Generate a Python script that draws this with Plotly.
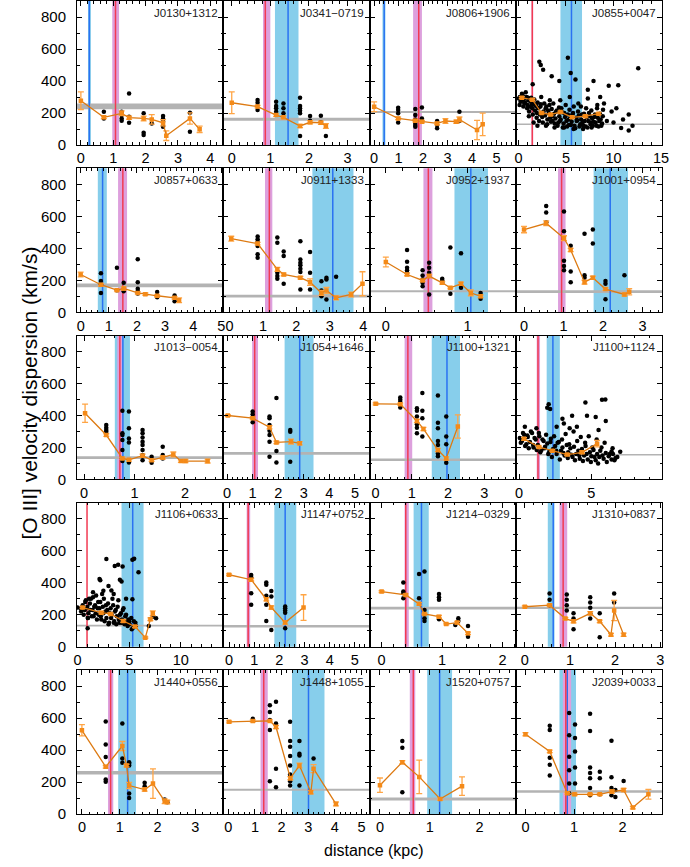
import plotly.graph_objects as go
from plotly.subplots import make_subplots

# ---------------- panel meta ----------------
names = ["J0130+1312", "J0341\u22120719", "J0806+1906", "J0855+0047",
         "J0857+0633", "J0911+1333", "J0952+1937", "J1001+0954",
         "J1013\u22120054", "J1054+1646", "J1100+1321", "J1100+1124",
         "J1106+0633", "J1147+0752", "J1214\u22120329", "J1310+0837",
         "J1440+0556", "J1448+1055", "J1520+0757", "J2039+0033"]
x_min = [-0.12, -0.22, -0.19, -0.28, -0.13, -0.19, -0.20, -0.21, -0.14, -0.15,
         -0.17, -0.23, -0.05, -0.23, -0.20, -0.20, -0.13, -0.19, -0.21, -0.20]
x_max = [4.40, 3.57, 5.78, 15.1, 5.07, 4.19, 1.59, 3.49, 2.76, 5.57,
         3.87, 9.89, 14.1, 5.58, 2.22, 3.04, 3.74, 5.30, 2.73, 2.81]
x_dtick = [1, 1, 1, 5, 1, 1, 1, 1, 1, 1, 1, 5, 5, 1, 1, 1, 1, 1, 1, 1]

# gray horizontal band (km/s)
gray_lo = [223, 152, 200, 125, 157, 92, 125, 120, 128, 155, 115, 150, 126, 120, 233, 236, 247, 145, 85, 133]
gray_hi = [260, 170, 212, 135, 180, 110, 138, 138, 145, 172, 132, 160, 138, 136, 250, 250, 268, 158, 103, 148]
# blue vertical band (kpc)
blue_lo = [0.22, 1.12, 0.34, 4.42, 0.61, 2.48, 0.84, 1.76, 0.61, 2.25, 1.55, 1.91, 4.26, 1.80, 0.53, 0.51, 0.96, 2.39, 0.95, 0.70]
blue_hi = [0.31, 1.73, 0.46, 6.69, 0.93, 3.71, 1.25, 2.63, 0.91, 3.38, 2.33, 2.82, 6.39, 2.67, 0.78, 0.66, 1.43, 3.61, 1.45, 1.04]
blue_mid = [0.26, 1.46, 0.41, 5.58, 0.78, 3.09, 1.04, 2.18, 0.77, 2.84, 1.97, 2.34, 5.34, 2.23, 0.66, 0.63, 1.21, 3.01, 1.20, 0.86]
# magenta vertical band and red line (kpc)
mag_lo = [0.97, 0.81, 1.59, 1.38, 1.33, 1.06, 0.46, 0.86, 0.66, 0.98, 0.80, 1.22, None, 0.70, 0.38, 0.77, 0.69, 1.21, 0.60, 0.77]
mag_hi = [1.18, 1.00, 1.95, 1.55, 1.65, 1.28, 0.57, 1.05, 0.76, 1.21, 1.01, 1.45, None, 0.84, 0.45, 0.94, 0.83, 1.48, 0.71, 0.94]
red_mid = [1.07, 0.87, 1.82, 1.46, 1.50, 1.19, 0.52, 0.95, 0.71, 1.08, 0.89, 1.31, 0.92, 0.76, 0.40, 0.85, 0.76, 1.33, 0.67, 0.83]

# ---------------- panel data ----------------
p01_sx = [0.71, 0.71, 1.26, 1.26, 1.26, 1.26, 1.49, 1.49, 1.49, 1.94, 1.94, 1.94, 2.19, 2.54, 2.54, 2.54, 2.54, 3.37, 3.37]
p01_sy = [208, 166, 208, 187, 166, 152, 322, 177, 139, 198, 77, 62, 135, 181, 164, 146, 114, 202, 83]
p01_ox = [0, 0.71, 1.26, 1.49, 1.94, 2.19, 2.54, 2.64, 3.37, 3.67]
p01_oy = [277, 173, 198, 171, 166, 160, 139, 58, 166, 98]
p01_oe = [55, 8, 15, 10, 15, 30, 20, 30, 35, 20]

p02_sx = [0.67, 0.67, 0.67, 1.15, 1.15, 1.15, 1.15, 1.34, 1.34, 1.34, 1.77, 1.77, 1.77, 1.77, 1.77, 1.77, 2.03, 2.03, 2.31, 2.31, 2.44]
p02_sy = [281, 264, 218, 271, 244, 229, 208, 260, 229, 198, 296, 244, 229, 214, 198, 56, 181, 152, 183, 142, 56]
p02_ox = [0, 0.67, 1.15, 1.34, 1.77, 2.03, 2.31, 2.44]
p02_oy = [264, 240, 187, 173, 119, 142, 139, 119]
p02_oe = [68, 8, 8, 8, 10, 10, 10, 15]

p03_sx = [0.98, 0.98, 0.98, 0.98, 1.68, 1.68, 1.68, 1.68, 1.68, 1.68, 1.95, 1.95, 2.57, 2.57, 2.57, 3.48, 3.48]
p03_sy = [233, 218, 198, 141, 225, 187, 160, 139, 125, 114, 235, 166, 150, 125, 104, 208, 150]
p03_ox = [0, 0.98, 1.68, 1.95, 2.57, 2.91, 3.35, 3.48, 4.20, 4.43]
p03_oy = [239, 166, 152, 146, 135, 150, 146, 160, 94, 129]
p03_oe = [31, 8, 8, 8, 8, 15, 10, 15, 60, 70]

p04_sx = [0.05, 0.15, 0.30, 0.45, 0.55, 0.70, 0.85, 0.95, 1.05, 1.20, 1.35, 1.45, 1.60, 1.75, 1.85, 1.95,
          2.10, 2.25, 2.35, 2.50, 2.65, 2.80, 2.95, 3.05, 3.20, 3.35, 3.50, 3.60, 3.75, 3.90, 4.05, 4.20,
          4.30, 4.45, 4.60, 4.75, 4.90, 5.05, 5.20, 5.30, 5.45, 5.60, 5.75, 5.90, 6.05, 6.20, 6.35, 6.50,
          6.60, 6.75, 6.90, 7.05, 7.20, 7.35, 7.50, 7.60, 7.75, 7.90, 8.05, 8.20, 8.35, 8.50, 8.65, 8.80,
          0.12, 0.22, 0.37, 0.52, 0.62, 0.77, 0.92, 1.02, 1.12, 1.27, 1.42, 1.52, 1.67, 1.82, 1.92, 2.02,
          2.17, 2.32, 2.42, 2.57, 2.72, 2.87, 3.02, 3.12, 3.27, 3.42, 3.57, 3.67, 3.82, 3.97, 4.12, 4.27,
          4.37, 4.52, 4.67, 4.82, 4.97, 5.12, 5.27, 5.37, 5.52, 5.67, 5.82, 5.97, 6.12, 6.27, 6.42, 6.57,
          6.67, 6.82, 6.97, 7.12, 7.27, 7.42, 7.57, 7.67, 7.82, 7.97, 8.12, 8.27, 8.42, 8.57, 8.72, 8.87,
          1.1, 1.6, 2.0, 2.4, 2.9, 3.3, 3.8, 4.4, 4.8, 5.4, 5.8, 6.3, 6.8, 7.3, 7.7, 8.3, 8.9, 9.3,
          1.5, 2.2, 2.35, 2.6, 3.5, 4.3, 5.2, 5.5, 6.0, 7.3, 7.9, 8.6, 9.0, 9.5, 9.8, 10.0, 10.3,
          10.5, 10.8, 11.0, 11.6, 11.6, 12.0, 12.6]
p04_sy = [290, 300, 275, 310, 285, 265, 300, 250, 280, 240, 295, 230, 260, 215, 245, 200,
          230, 190, 255, 175, 210, 185, 240, 160, 200, 170, 225, 150, 195, 165, 215, 140,
          180, 160, 205, 135, 175, 150, 190, 125, 165, 145, 200, 120, 170, 155, 185, 130,
          160, 140, 195, 115, 175, 150, 180, 130, 165, 145, 190, 120, 170, 150, 160, 135,
          250, 270, 320, 240, 260, 330, 230, 295, 210, 270, 250, 190, 285, 245, 170, 265,
          150, 240, 200, 140, 260, 230, 130, 215, 250, 145, 180, 260, 135, 210, 120, 235,
          150, 230, 110, 200, 250, 115, 160, 220, 125, 190, 240, 105, 150, 210, 115, 240,
          190, 120, 150, 230, 110, 200, 140, 215, 120, 175, 140, 230, 115, 195, 120, 180,
          180, 140, 120, 300, 120, 280, 110, 280, 110, 300, 100, 260, 100, 290, 110, 250, 220, 150,
          380, 520, 500, 470, 430, 400, 545, 450, 410, 345, 400, 300, 260, 370, 210, 140, 230,
          373, 106, 160, 190, 90, 120, 480]
p04_ox = [0.35, 1.46, 2.44, 3.38, 4.42, 5.65, 7.04, 8.43]
p04_oy = [296, 283, 200, 190, 206, 173, 180, 196]
p04_oe = [6, 6, 6, 6, 6, 6, 6, 6]

p05_sx = [0.72, 0.72, 0.72, 0.72, 1.29, 1.29, 1.53, 1.53, 2.03, 2.03, 2.03, 2.03, 2.03, 2.72, 2.72, 3.34, 3.34]
p05_sy = [243, 195, 174, 121, 278, 138, 184, 132, 331, 188, 147, 132, 117, 126, 94, 105, 69]
p05_ox = [0, 0.72, 1.29, 1.53, 2.03, 2.30, 2.72, 3.34, 3.50]
p05_oy = [236, 172, 138, 149, 121, 113, 103, 90, 75]
p05_oe = [15, 8, 6, 10, 6, 8, 6, 8, 15]

p06_sx = [0.84, 0.84, 0.84, 0.84, 0.84, 0.84, 1.43, 1.43, 1.43, 1.43, 1.43, 1.62, 1.62, 1.62,
          2.12, 2.12, 2.12, 2.12, 2.12, 2.12, 2.12, 2.41, 2.41, 2.41, 2.75, 2.75, 2.75, 2.90, 2.90, 2.90, 3.19]
p06_sy = [473, 456, 440, 414, 362, 341, 467, 435, 247, 226, 209, 379, 352, 178,
          444, 330, 310, 293, 272, 251, 142, 377, 247, 142, 194, 136, 100, 216, 205, 80, 222]
p06_ox = [0.05, 0.84, 1.43, 1.62, 2.12, 2.41, 2.75, 2.90, 3.19, 3.64, 3.98]
p06_oy = [460, 429, 268, 236, 216, 188, 121, 136, 90, 111, 178]
p06_oe = [15, 8, 12, 8, 8, 20, 15, 20, 12, 15, 75]

p07_sx = [0.26, 0.26, 0.26, 0.26, 0.26, 0.45, 0.45, 0.45, 0.45, 0.45, 0.53, 0.53, 0.53, 0.53, 0.53,
          0.69, 0.69, 0.69, 0.79, 0.79, 0.92, 0.92, 1.16, 1.16]
p07_sy = [389, 316, 278, 262, 247, 262, 230, 205, 184, 163, 310, 278, 247, 226, 111,
          209, 199, 184, 404, 115, 368, 153, 121, 84]
p07_ox = [0, 0.26, 0.45, 0.53, 0.69, 0.79, 0.92, 1.04, 1.16]
p07_oy = [314, 236, 199, 226, 184, 153, 178, 121, 100]
p07_oe = [31, 8, 6, 10, 8, 6, 10, 18, 8]

p08_sx = [0.56, 0.56, 0.56, 1.01, 1.01, 1.01, 1.01, 1.01, 1.18, 1.18, 1.18, 1.53, 1.53, 1.53, 1.74, 1.74, 2.06, 2.06, 2.06, 2.54]
p08_sy = [664, 624, 563, 630, 506, 322, 289, 262, 416, 255, 188, 490, 232, 215, 517, 429, 195, 178, 82, 232]
p08_ox = [0, 0.56, 1.01, 1.18, 1.53, 1.74, 2.06, 2.54, 2.66]
p08_oy = [517, 556, 463, 389, 188, 215, 145, 111, 128]
p08_oe = [20, 15, 15, 10, 12, 10, 8, 10, 20]

p09_sx = [0.44, 0.44, 0.44, 0.44, 0.76, 0.76, 0.76, 0.76, 0.76, 0.76, 0.89, 0.89, 0.89, 0.89, 0.89,
          1.16, 1.16, 1.16, 1.16, 1.16, 1.16, 1.16, 1.16, 1.34, 1.34, 1.56, 1.56, 1.56]
p09_sy = [341, 324, 310, 299, 429, 289, 278, 247, 184, 115, 425, 320, 257, 232, 107,
          310, 289, 262, 236, 216, 184, 153, 121, 142, 105, 205, 153, 132]
p09_ox = [0.02, 0.44, 0.76, 0.89, 1.16, 1.34, 1.56, 1.77, 1.92, 2.01, 2.45]
p09_oy = [414, 278, 132, 123, 149, 121, 138, 157, 115, 115, 115]
p09_oe = [57, 8, 6, 8, 10, 8, 10, 15, 8, 10, 12]

p10_sx = [1.0, 1.0, 1.0, 1.0, 1.66, 1.66, 1.66, 1.66, 1.66, 1.66, 1.66, 1.93, 1.93, 1.93, 2.47, 2.47, 2.47]
p10_sy = [425, 408, 387, 358, 393, 383, 341, 304, 278, 236, 142, 509, 178, 107, 310, 299, 111]
p10_ox = [0.03, 1.0, 1.66, 1.93, 2.50, 2.84]
p10_oy = [400, 383, 327, 232, 237, 226]
p10_oe = [6, 6, 10, 8, 15, 10]

p11_sx = [0.68, 0.68, 0.68, 0.68, 1.14, 1.14, 1.14, 1.14, 1.14, 1.14, 1.29, 1.29, 1.29, 1.29,
          1.72, 1.72, 1.72, 1.72, 1.72, 1.72, 1.72, 1.95, 1.95, 1.95, 1.95]
p11_sy = [513, 498, 484, 450, 446, 429, 393, 345, 324, 289, 540, 429, 383, 268,
          525, 355, 320, 241, 216, 163, 146, 393, 268, 220, 105]
p11_ox = [0, 0.68, 1.14, 1.32, 1.72, 1.95, 2.27]
p11_oy = [473, 471, 366, 316, 184, 132, 331]
p11_oe = [6, 6, 10, 10, 10, 10, 73]

p12_sx = [0.05, 0.20, 0.35, 0.50, 0.60, 0.75, 0.90, 1.00, 1.15, 1.30, 1.40, 1.55, 1.70, 1.80, 1.95, 2.10,
          2.20, 2.35, 2.50, 2.60, 2.75, 2.90, 3.00, 3.15, 3.30, 3.40, 3.55, 3.70, 3.80, 3.95, 4.10, 4.20,
          4.35, 4.50, 4.60, 4.75, 4.90, 5.00, 5.15, 5.30, 5.40, 5.55, 5.70, 5.85, 6.00, 6.20, 6.40, 6.60,
          0.12, 0.27, 0.42, 0.57, 0.67, 0.82, 0.97, 1.07, 1.22, 1.37, 1.47, 1.62, 1.77, 1.87, 2.02, 2.17,
          2.27, 2.42, 2.57, 2.67, 2.82, 2.97, 3.07, 3.22, 3.37, 3.47, 3.62, 3.77, 3.87, 4.02, 4.17, 4.27,
          4.42, 4.57, 4.67, 4.82, 4.97, 5.07, 5.22, 5.37, 5.47, 5.62, 5.77, 5.92, 6.07, 6.27, 6.47, 6.67,
          1.95, 2.05, 2.15, 3.00, 3.10, 3.67, 4.00, 4.59, 4.70, 5.30, 5.74, 5.97, 6.00, 5.50, 6.50, 7.00,
          6.40, 6.80, 2.60, 1.20, 0.40, 3.50]
p12_sy = [260, 240, 280, 220, 265, 235, 290, 200, 250, 215, 270, 185, 240, 205, 225, 175,
          255, 190, 210, 160, 235, 180, 200, 150, 215, 170, 195, 140, 205, 160, 180, 130,
          190, 150, 210, 125, 170, 145, 185, 120, 160, 140, 200, 130, 165, 145, 175, 120,
          230, 290, 210, 275, 195, 300, 215, 260, 185, 290, 170, 250, 195, 280, 160, 235,
          140, 270, 180, 230, 125, 250, 165, 285, 135, 220, 155, 300, 120, 240, 150, 265,
          115, 230, 160, 270, 110, 200, 140, 250, 100, 180, 150, 230, 110, 160, 195, 135,
          448, 470, 440, 380, 350, 398, 330, 481, 398, 390, 498, 500, 366, 310, 160, 173,
          125, 140, 330, 320, 330, 320]
p12_ox = [0.34, 1.38, 2.30, 3.33, 4.36, 5.40]
p12_oy = [254, 203, 180, 156, 170, 224]
p12_oe = [8, 6, 6, 6, 8, 20]

p13_sx = [0.30, 0.50, 0.70, 0.80, 0.95, 1.05, 1.20, 1.30, 1.45, 1.55, 1.70, 1.80, 1.95, 2.05, 2.20, 2.30,
          2.45, 2.55, 2.70, 2.80, 2.95, 3.05, 3.20, 3.30, 3.45, 3.55, 3.70, 3.80, 3.95, 4.05, 4.20, 4.30,
          4.45, 4.55, 4.70, 4.85, 5.00, 5.20, 5.40, 5.60,
          0.35, 0.60, 0.75, 0.88, 1.00, 1.12, 1.25, 1.38, 1.50, 1.62, 1.75, 1.88, 2.00, 2.12, 2.25, 2.38,
          2.50, 2.62, 2.75, 2.88, 3.00, 3.12, 3.25, 3.38, 3.50, 3.62, 3.75, 3.88, 4.00, 4.12, 4.25, 4.38,
          4.50, 4.62, 4.75, 4.90, 5.05, 5.25, 5.45, 5.65,
          0.00, 0.98, 2.13, 2.20, 2.79, 3.28, 3.00, 3.60, 3.93, 4.10, 4.26, 4.36, 5.31, 5.48, 5.90, 5.31,
          3.50, 2.50, 6.90, 7.30, 7.60, 1.50, 4.70, 1.00]
p13_sy = [240, 260, 230, 290, 250, 210, 270, 300, 230, 190, 260, 320, 240, 200, 280, 170,
          250, 300, 220, 180, 270, 150, 240, 200, 260, 160, 230, 190, 290, 150, 210, 170,
          240, 140, 200, 130, 160, 180, 120, 150,
          220, 200, 280, 240, 180, 300, 230, 190, 310, 250, 210, 170, 280, 240, 190, 330,
          210, 160, 260, 230, 140, 210, 180, 300, 150, 220, 140, 250, 170, 200, 150, 230,
          160, 190, 150, 170, 140, 110, 160, 130,
          245, 115, 423, 415, 548, 352, 380, 505, 512, 419, 408, 502, 544, 550, 465, 297,
          330, 350, 130, 188, 178, 340, 300, 180]
p13_ox = [0.49, 2.30, 3.20, 4.43, 5.57, 6.56, 7.05, 7.28]
p13_oy = [245, 213, 205, 161, 126, 57, 172, 209]
p13_oe = [6, 8, 6, 8, 6, 5, 8, 15]

p14_sx = [0.88, 0.88, 0.88, 0.88, 1.48, 1.48, 1.48, 1.48, 1.48, 1.68, 1.68, 1.68, 2.23, 2.23, 2.23, 2.23, 2.23]
p14_sy = [448, 435, 335, 262, 402, 387, 318, 262, 161, 349, 314, 105, 251, 241, 226, 213, 115]
p14_ox = [0, 0.88, 1.48, 1.68, 2.23, 2.96]
p14_oy = [450, 419, 297, 245, 151, 245]
p14_oe = [6, 8, 10, 10, 10, 80]

p15_sx = [0.36, 0.36, 0.36, 0.36, 0.62, 0.62, 0.71, 0.71, 0.71, 0.71, 0.95, 0.95, 0.95, 0.95, 1.22, 1.27, 1.27, 1.43, 1.43]
p15_sy = [402, 345, 335, 303, 454, 303, 471, 230, 178, 161, 329, 310, 293, 172, 136, 178, 161, 130, 63]
p15_ox = [0, 0.40, 0.62, 0.71, 0.95, 1.07, 1.25, 1.43]
p15_oy = [345, 324, 268, 205, 188, 142, 151, 84]
p15_oe = [6, 6, 8, 5, 8, 5, 8, 8]

p16_sx = [0.55, 0.55, 0.55, 0.93, 0.93, 0.93, 0.93, 1.08, 1.08, 1.08, 1.45, 1.45, 1.45, 1.45, 1.45, 1.66, 1.66, 1.98, 1.98]
p16_sy = [333, 293, 260, 326, 293, 260, 226, 209, 176, 109, 310, 276, 243, 209, 176, 209, 59, 333, 276]
p16_ox = [0, 0.55, 0.90, 1.08, 1.45, 1.66, 1.91, 1.98, 2.19]
p16_oy = [250, 260, 176, 159, 209, 159, 75, 226, 75]
p16_oe = [6, 6, 6, 10, 10, 8, 8, 63, 10]

p17_sx = [0.63, 0.63, 0.63, 0.63, 0.63, 1.07, 1.07, 1.07, 1.25, 1.25, 1.25, 1.25, 1.25, 1.66, 1.66, 2.19, 2.26]
p17_sy = [578, 435, 356, 216, 201, 565, 347, 320, 324, 314, 303, 128, 100, 195, 174, 90, 73]
p17_ox = [0, 0.63, 1.07, 1.18, 1.25, 1.66, 1.88, 2.19, 2.26]
p17_oy = [523, 295, 425, 303, 178, 153, 190, 80, 75]
p17_oe = [35, 8, 28, 8, 20, 10, 92, 15, 12]

p18_sx = [0.92, 1.56, 1.56, 1.56, 1.56, 1.56, 1.79, 1.79, 1.79, 1.79,
          2.32, 2.32, 2.32, 2.32, 2.32, 2.32, 2.32, 2.32, 2.67, 2.67, 2.67, 2.67, 3.20]
p18_sy = [596, 680, 638, 588, 525, 205, 701, 565, 283, 167,
          576, 456, 421, 362, 303, 247, 205, 178, 456, 377, 366, 178, 347]
p18_ox = [0.03, 0.92, 1.56, 1.79, 2.33, 2.67, 3.10, 3.20, 4.04]
p18_oy = [576, 582, 582, 544, 224, 303, 136, 283, 63]
p18_oe = [6, 6, 6, 10, 10, 15, 10, 25, 12]

p19_sx = [0.45, 0.45, 0.45]
p19_sy = [456, 414, 136]
p19_ox = [0, 0.45, 0.79, 1.21, 1.65]
p19_oy = [180, 324, 232, 94, 174]
p19_oe = [45, 10, 105, 8, 58]

p20_sx = [0.50, 0.50, 0.50, 0.50, 0.50, 0.90, 0.90, 0.90, 0.90, 0.90, 0.90, 1.02, 1.02, 1.02, 1.02, 1.02,
          1.33, 1.33, 1.33, 1.33, 1.33, 1.33, 1.33, 1.53, 1.53, 1.53, 1.77, 1.77, 1.77, 1.77, 1.85, 1.85, 2.02]
p20_sy = [552, 525, 351, 308, 241, 632, 492, 358, 274, 190, 130, 559, 475, 391, 291, 190,
          626, 519, 291, 257, 224, 163, 117, 264, 224, 123, 458, 230, 163, 117, 150, 107, 207]
p20_ox = [0, 0.50, 0.86, 1.01, 1.33, 1.53, 1.78, 2.02, 2.21, 2.53]
p20_oy = [499, 391, 130, 123, 123, 123, 140, 150, 40, 123]
p20_oe = [10, 8, 6, 8, 6, 6, 10, 10, 8, 30]

panels = [
    (p01_sx, p01_sy, p01_ox, p01_oy, p01_oe), (p02_sx, p02_sy, p02_ox, p02_oy, p02_oe),
    (p03_sx, p03_sy, p03_ox, p03_oy, p03_oe), (p04_sx, p04_sy, p04_ox, p04_oy, p04_oe),
    (p05_sx, p05_sy, p05_ox, p05_oy, p05_oe), (p06_sx, p06_sy, p06_ox, p06_oy, p06_oe),
    (p07_sx, p07_sy, p07_ox, p07_oy, p07_oe), (p08_sx, p08_sy, p08_ox, p08_oy, p08_oe),
    (p09_sx, p09_sy, p09_ox, p09_oy, p09_oe), (p10_sx, p10_sy, p10_ox, p10_oy, p10_oe),
    (p11_sx, p11_sy, p11_ox, p11_oy, p11_oe), (p12_sx, p12_sy, p12_ox, p12_oy, p12_oe),
    (p13_sx, p13_sy, p13_ox, p13_oy, p13_oe), (p14_sx, p14_sy, p14_ox, p14_oy, p14_oe),
    (p15_sx, p15_sy, p15_ox, p15_oy, p15_oe), (p16_sx, p16_sy, p16_ox, p16_oy, p16_oe),
    (p17_sx, p17_sy, p17_ox, p17_oy, p17_oe), (p18_sx, p18_sy, p18_ox, p18_oy, p18_oe),
    (p19_sx, p19_sy, p19_ox, p19_oy, p19_oe), (p20_sx, p20_sy, p20_ox, p20_oy, p20_oe),
]

# ---------------- figure ----------------
FONT = "Liberation Sans, Arial, Helvetica, sans-serif"
C_GRAY = "#B3B3B3"
C_SKY = "#87CEEB"
C_BLUE = "#2A72F2"
C_PLUM = "#DDA0DD"
C_RED = "#F23A52"
C_OLINE = "#DD7A12"
C_OMARK = "#F48A18"
C_OERR = "#FFA545"

fig = make_subplots(rows=5, cols=4, horizontal_spacing=0, vertical_spacing=0.0286)

shapes = []
annotations = []
for i, (sx, sy, ox, oy, oe) in enumerate(panels):
    r, c = i // 4 + 1, i % 4 + 1
    xa = "x" if i == 0 else f"x{i + 1}"
    ya = "y" if i == 0 else f"y{i + 1}"
    fig.add_trace(go.Scatter(x=sx, y=sy, mode="markers",
                             marker=dict(color="black", size=4.5, line=dict(width=0)),
                             showlegend=False, hoverinfo="skip"), row=r, col=c)
    fig.add_trace(go.Scatter(x=ox, y=oy, mode="lines+markers",
                             line=dict(color=C_OLINE, width=1.3),
                             marker=dict(color=C_OMARK, size=4.5, symbol="square"),
                             error_y=dict(type="data", array=oe, color=C_OERR, thickness=1.3, width=3),
                             showlegend=False, hoverinfo="skip"), row=r, col=c)
    # vertical bands
    shapes.append(dict(type="rect", xref=xa, yref=f"{ya} domain", x0=blue_lo[i], x1=blue_hi[i],
                       y0=0, y1=1, fillcolor=C_SKY, line_width=0, layer="below"))
    if mag_lo[i] is not None:
        shapes.append(dict(type="rect", xref=xa, yref=f"{ya} domain", x0=mag_lo[i], x1=mag_hi[i],
                           y0=0, y1=1, fillcolor=C_PLUM, line_width=0, layer="below"))
    # gray horizontal band
    shapes.append(dict(type="rect", xref=f"{xa} domain", yref=ya, x0=0, x1=1,
                       y0=gray_lo[i], y1=gray_hi[i], fillcolor=C_GRAY, line_width=0, layer="below"))
    # centre lines
    shapes.append(dict(type="line", xref=xa, yref=f"{ya} domain", x0=blue_mid[i], x1=blue_mid[i],
                       y0=0, y1=1, line=dict(color=C_BLUE, width=1.5), layer="below"))
    shapes.append(dict(type="line", xref=xa, yref=f"{ya} domain", x0=red_mid[i], x1=red_mid[i],
                       y0=0, y1=1, line=dict(color=C_RED, width=1.5), layer="below"))
    annotations.append(dict(text=names[i], xref=f"{xa} domain", yref=f"{ya} domain",
                            x=0.975, y=0.975, xanchor="right", yanchor="top", showarrow=False,
                            font=dict(family=FONT, size=11.5, color="#222")))
    fig.update_xaxes(range=[x_min[i], x_max[i]], dtick=x_dtick[i], tick0=0,
                     minor=dict(ticks="inside", ticklen=2.5, tickcolor="black", tickwidth=1,
                                dtick=x_dtick[i] / 5, tick0=0),
                     row=r, col=c)
    fig.update_yaxes(range=[0, 900], dtick=200, tick0=0, showticklabels=(c == 1),
                     minor=dict(ticks="inside", ticklen=2.5, tickcolor="black", tickwidth=1,
                                dtick=100, tick0=0),
                     row=r, col=c)

fig.update_xaxes(showline=True, linecolor="black", linewidth=1, mirror="allticks",
                 ticks="inside", ticklen=5, tickwidth=1, tickcolor="black",
                 showgrid=False, zeroline=False, tickfont=dict(family=FONT, size=14.5, color="black"))
fig.update_yaxes(showline=True, linecolor="black", linewidth=1, mirror="allticks",
                 ticks="inside", ticklen=5, tickwidth=1, tickcolor="black", ticklabelstandoff=7,
                 showgrid=False, zeroline=False, tickfont=dict(family=FONT, size=15, color="black"))

annotations.append(dict(text="[O III] velocity dispersion (km/s)", xref="paper", yref="paper",
                        x=-0.081, y=0.518, xanchor="center", yanchor="middle", textangle=-90,
                        showarrow=False, font=dict(family=FONT, size=21, color="black")))
annotations.append(dict(text="distance (kpc)", xref="paper", yref="paper",
                        x=0.508, y=-0.045, xanchor="center", yanchor="middle",
                        showarrow=False, font=dict(family=FONT, size=16, color="black")))

fig.update_layout(width=690, height=867, margin=dict(l=77, r=28, t=1, b=53),
                  plot_bgcolor="white", paper_bgcolor="white",
                  shapes=shapes, annotations=annotations,
                  font=dict(family=FONT, color="black"))

fig.write_html("out.html", config={"displayModeBar": False},
               post_script="document.body.style.margin='0px';")
